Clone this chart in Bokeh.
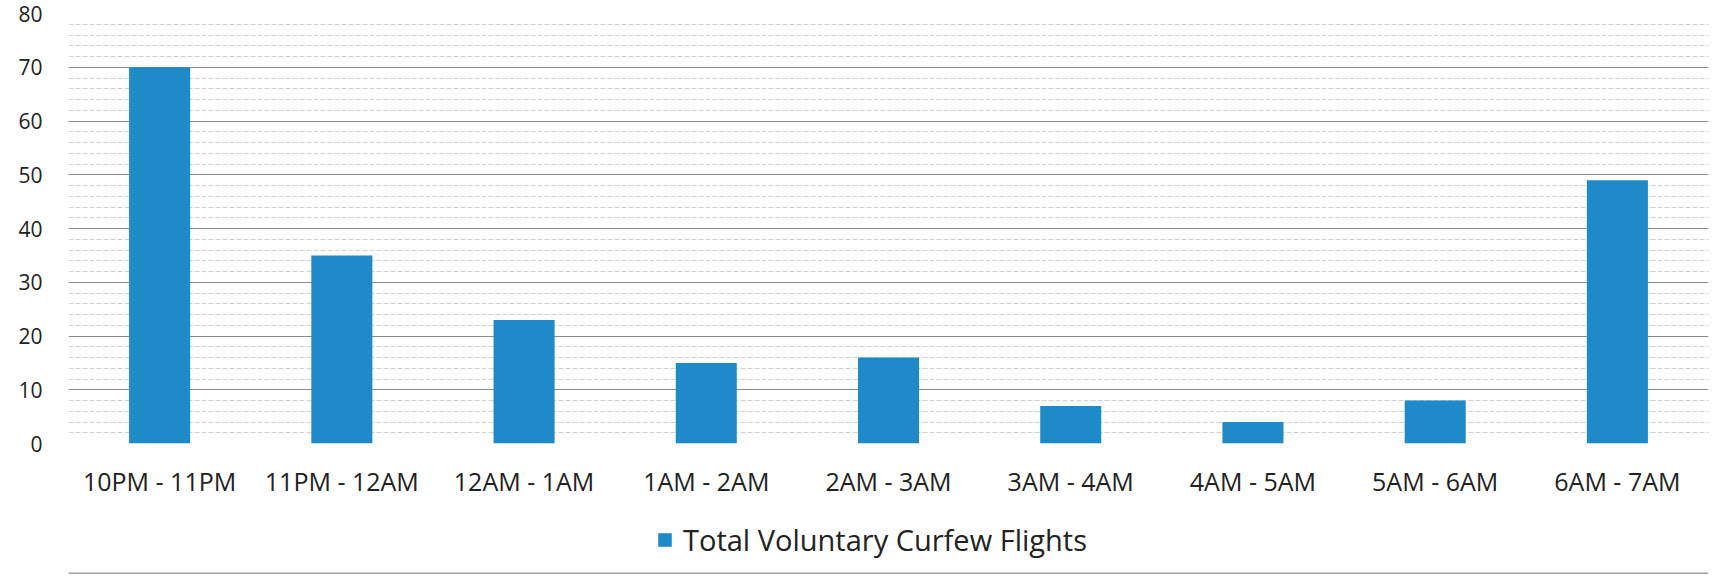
from bokeh.plotting import figure
from bokeh.layouts import column
from bokeh.models import (Range1d, FactorRange, Legend, LegendItem, FixedTicker,
                          ColumnDataSource, Span)
from bokeh.embed import file_html
from bokeh.resources import INLINE

categories = ["10PM - 11PM", "11PM - 12AM", "12AM - 1AM", "1AM - 2AM", "2AM - 3AM",
              "3AM - 4AM", "4AM - 5AM", "5AM - 6AM", "6AM - 7AM"]
flights = [70, 35, 23, 15, 16, 7, 4, 8, 49]
series_name = "Total Voluntary Curfew Flights"
y_ticks = [0, 10, 20, 30, 40, 50, 60, 70, 80]

FONT = "Open Sans"
BLUE = "#1f8ac8"

p = figure(x_range=FactorRange(*categories, range_padding=0), y_range=Range1d(0, 80),
           width=1712, height=500, output_backend="svg", toolbar_location=None,
           min_border_left=68, min_border_right=4, min_border_top=13, min_border_bottom=56)

r = p.vbar(x=categories, top=flights, width=0.335, color=BLUE, line_color=None)

p.outline_line_color = None
p.xaxis.axis_line_color = None
p.xaxis.major_tick_line_color = None
p.xaxis.minor_tick_line_color = None
p.xaxis.major_label_text_font = FONT
p.xaxis.major_label_text_font_size = "25px"
p.xaxis.major_label_text_color = "#222222"
p.xaxis.major_label_standoff = 14

p.yaxis.ticker = FixedTicker(ticks=y_ticks, minor_ticks=list(range(0, 81, 2)))
p.yaxis.axis_line_color = None
p.yaxis.major_tick_line_color = None
p.yaxis.minor_tick_line_color = None
p.yaxis.major_label_text_font = FONT
p.yaxis.major_label_text_font_size = "21px"
p.yaxis.major_label_text_color = "#222222"
p.yaxis.major_label_standoff = 20

p.xgrid.grid_line_color = None
p.ygrid.grid_line_color = "#8c8c8c"
p.ygrid.grid_line_width = 1.2
p.ygrid.minor_grid_line_color = "#d2d2d2"
p.ygrid.minor_grid_line_width = 1
p.ygrid.minor_grid_line_dash = "5 2"

# legend strip below the chart
p2 = figure(width=1712, height=74, x_range=Range1d(0, 1640), y_range=Range1d(0, 74),
            output_backend="svg", toolbar_location=None,
            min_border_left=68, min_border_right=4, min_border_top=0, min_border_bottom=0)
p2.axis.visible = False
p2.grid.grid_line_color = None
p2.outline_line_color = None
proxy = p2.vbar(x="x", top="top", width=0, color=BLUE, line_color=None,
                source=ColumnDataSource(dict(x=[0], top=[0])))
legend = Legend(items=[LegendItem(label=series_name, renderers=[proxy])],
                orientation="horizontal", location=(588, 15),
                label_text_font=FONT, label_text_font_size="29px",
                label_text_color="#222222", glyph_width=17, glyph_height=17,
                border_line_color=None, background_fill_alpha=0,
                padding=4, margin=0, label_standoff=10)
p2.add_layout(legend, "center")
p2.add_layout(Span(location=1, dimension="width", line_color="#a0a0a0", line_width=2))

layout = column(p, p2, spacing=0)
open("out.html", "w").write(file_html(layout, INLINE))
